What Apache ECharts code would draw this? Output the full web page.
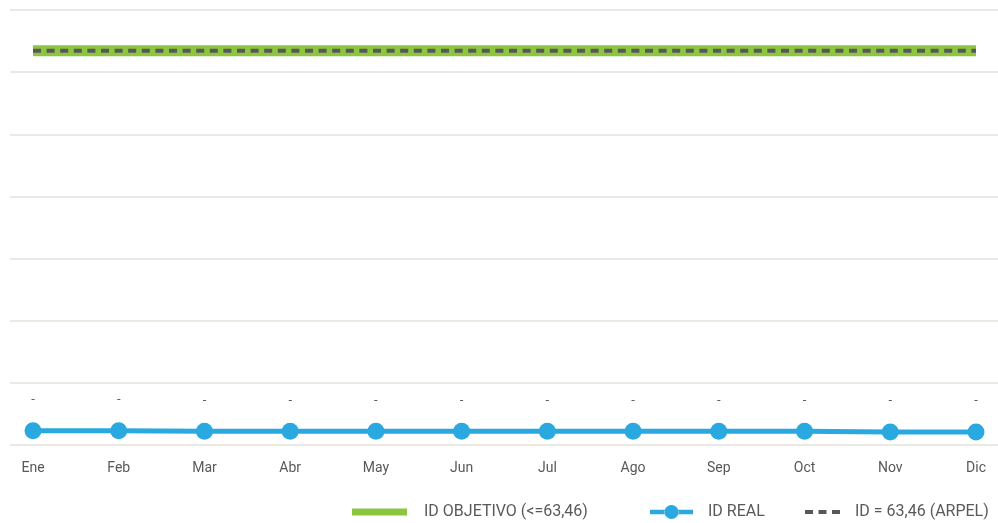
<!DOCTYPE html>
<html>
<head>
<meta charset="utf-8">
<style>
  html, body { margin: 0; padding: 0; background: #ffffff; }
  #chart { width: 998px; height: 523px; }
</style>
<script src="https://cdn.jsdelivr.net/npm/echarts@6/dist/echarts.min.js"></script>
</head>
<body>
<div id="chart"></div>
<script>
// Months of the year
const months = ['Ene', 'Feb', 'Mar', 'Abr', 'May', 'Jun', 'Jul', 'Ago', 'Sep', 'Oct', 'Nov', 'Dic'];
// Monthly ID values
const idReal = [2.3, 2.3, 2.2, 2.2, 2.2, 2.2, 2.2, 2.2, 2.2, 2.2, 2.1, 2.1];
// Target and reference levels
const idObjetivo = 63.46;
const idArpel = 63.46;
// Value axis range
const yMin = 0, yMax = 70, yStep = 10;

const seriesNames = ['ID OBJETIVO (<=63,46)', 'ID REAL', 'ID = 63,46 (ARPEL)'];

const FONT = "Roboto, 'Noto Sans', sans-serif";
const GREEN = '#8cc63f';
const BLUE = '#29a9e0';
const DARK = '#58585a';
const TEXT = '#58595b';

// legend glyphs: line with a dot, and three short dashes
const ICON_REAL = 'path://M0,5h15v4.5h-15z M28,5h15v4.5h-15z M14.5,7.25a7,7 0 1,0 14,0a7,7 0 1,0 -14,0z';
const ICON_DASH = 'path://M0,0h8v4h-8z M13.5,0h8v4h-8z M27,0h8v4h-8z';

const chart = echarts.init(document.getElementById('chart'), null, { renderer: 'canvas' });

chart.setOption({
  animation: false,
  backgroundColor: '#ffffff',
  textStyle: { fontFamily: FONT },
  grid: [
    // background grid carrying the horizontal split lines
    { left: 10, right: 0, top: 10, bottom: 78 },
    // plotting area for the monthly series
    { left: 33, right: 22, top: 10, bottom: 78 }
  ],
  xAxis: [
    { gridIndex: 0, type: 'category', data: months, show: false },
    {
      gridIndex: 1, type: 'category', data: months, boundaryGap: false,
      axisLine: { show: false }, axisTick: { show: false },
      axisLabel: { color: TEXT, fontSize: 14, fontFamily: FONT, margin: 16 }
    }
  ],
  yAxis: [
    {
      gridIndex: 0, type: 'value', min: yMin, max: yMax, interval: yStep,
      axisLabel: { show: false }, axisLine: { show: false }, axisTick: { show: false },
      splitLine: { show: true, lineStyle: { color: '#ece9e4', width: 2 } }
    },
    {
      gridIndex: 1, type: 'value', min: yMin, max: yMax, interval: yStep,
      show: false, splitLine: { show: false }
    }
  ],
  legend: [
    {
      left: 352, top: 504, padding: 0, itemWidth: 55, itemHeight: 7, itemGap: 0,
      data: [{ name: seriesNames[0], icon: 'rect', itemStyle: { color: GREEN } }],
      textStyle: { color: TEXT, fontSize: 16, fontFamily: FONT, padding: [0, 0, 0, 12] }
    },
    {
      left: 650, top: 504, padding: 0, itemWidth: 43, itemHeight: 14, itemGap: 0,
      data: [{ name: seriesNames[1], icon: ICON_REAL, itemStyle: { color: BLUE } }],
      textStyle: { color: TEXT, fontSize: 16, fontFamily: FONT, padding: [0, 0, 0, 10] }
    },
    {
      left: 805, top: 504, padding: 0, itemWidth: 35, itemHeight: 4, itemGap: 0,
      data: [{ name: seriesNames[2], icon: ICON_DASH, itemStyle: { color: DARK } }],
      textStyle: { color: TEXT, fontSize: 16, fontFamily: FONT, padding: [0, 0, 0, 10] }
    }
  ],
  series: [
    {
      name: seriesNames[0], type: 'line', xAxisIndex: 1, yAxisIndex: 1,
      data: months.map(() => idObjetivo),
      symbol: 'none', silent: true, z: 2,
      lineStyle: { color: GREEN, width: 11, cap: 'butt' },
      itemStyle: { color: GREEN }
    },
    {
      name: seriesNames[1], type: 'line', xAxisIndex: 1, yAxisIndex: 1,
      data: idReal,
      symbol: 'circle', symbolSize: 17, z: 4,
      lineStyle: { color: BLUE, width: 5 },
      itemStyle: { color: BLUE },
      label: {
        show: true, position: 'top', distance: 16,
        formatter: () => '-', color: TEXT, fontSize: 13, fontFamily: FONT
      }
    },
    {
      name: seriesNames[2], type: 'line', xAxisIndex: 1, yAxisIndex: 1,
      data: months.map(() => idArpel),
      symbol: 'none', silent: true, z: 3,
      lineStyle: { color: DARK, width: 4, type: [8, 5.6], cap: 'butt' },
      itemStyle: { color: DARK }
    }
  ]
});
</script>
</body>
</html>
